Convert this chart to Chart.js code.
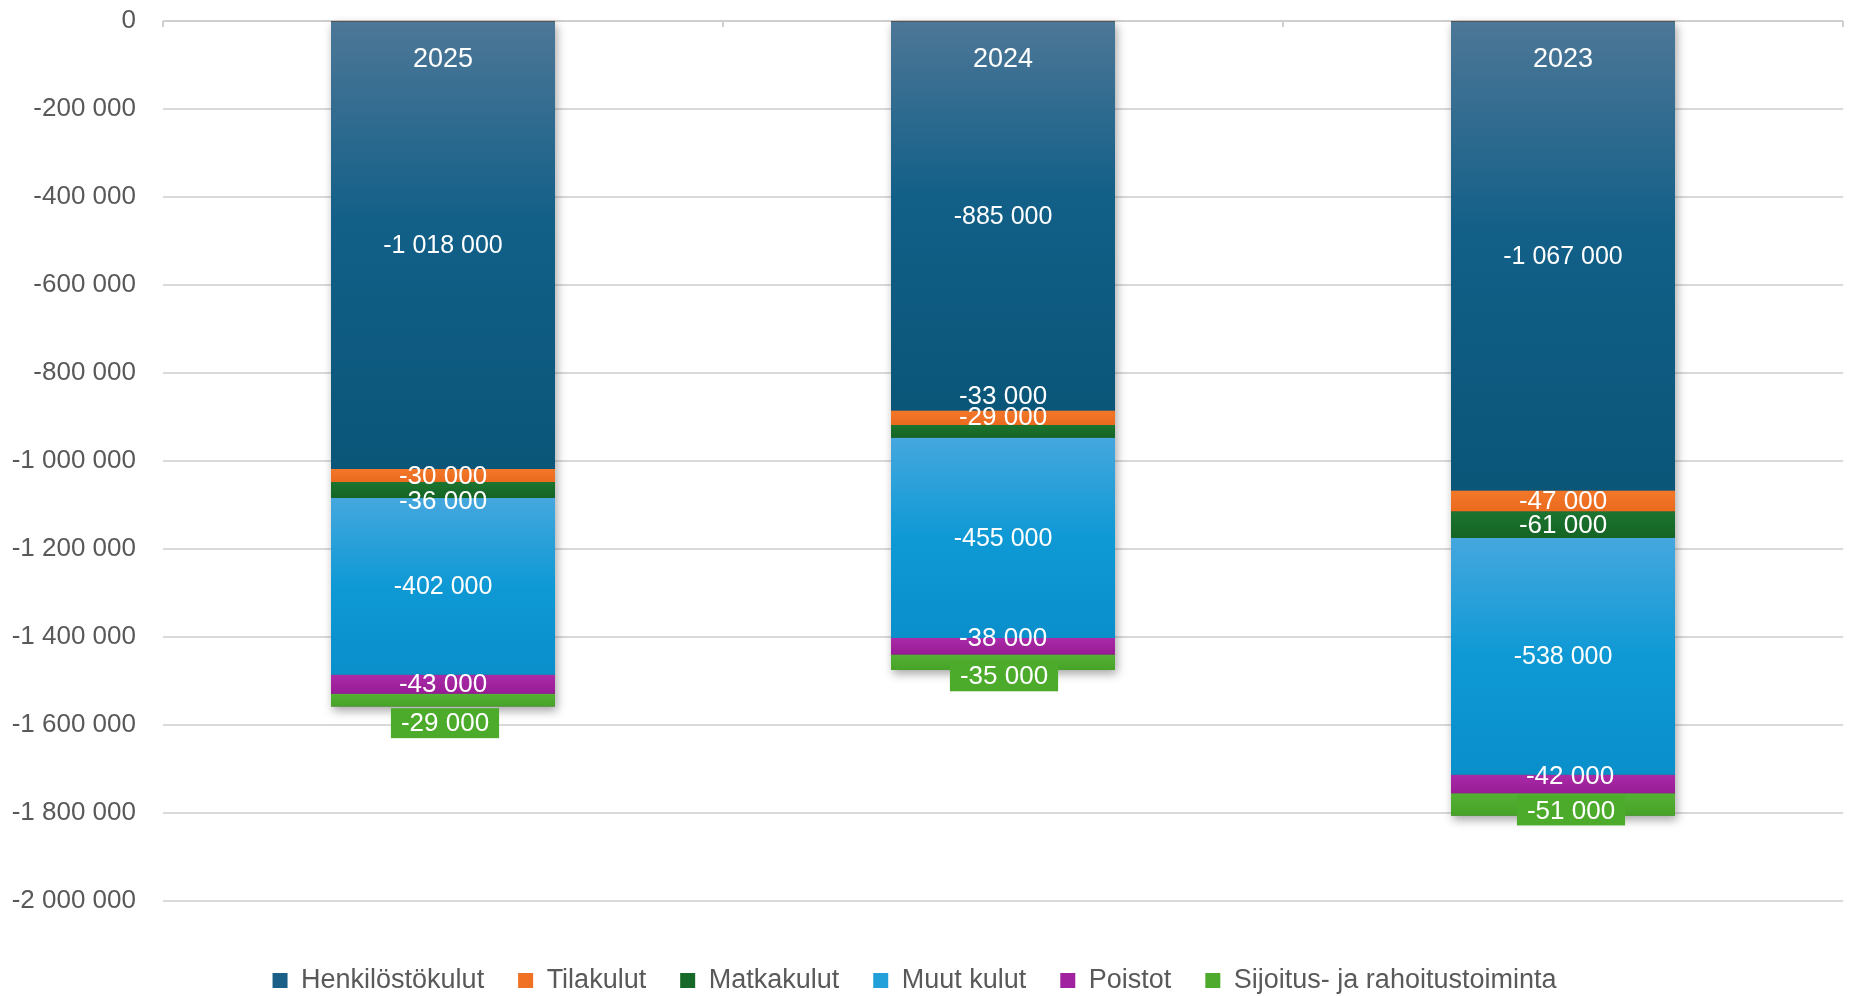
<!DOCTYPE html>
<html><head><meta charset="utf-8">
<script src="https://cdn.jsdelivr.net/npm/chart.js@4/dist/chart.umd.min.js"></script>
<style>html,body{margin:0;padding:0;background:#fff}#wrap{width:1850px;height:996px;position:relative}</style>
</head><body><div id="wrap"><canvas id="c"></canvas></div>
<script>
// ---- data ----
const categories = ['2025', '2024', '2023'];
const henkilostokulut = [-1018000, -885000, -1067000];
const tilakulut = [-30000, -33000, -47000];
const matkakulut = [-36000, -29000, -61000];
const muutKulut = [-402000, -455000, -538000];
const poistot = [-43000, -38000, -42000];
const sijoitus = [-29000, -35000, -51000];
const seriesNames = ['Henkilöstökulut', 'Tilakulut', 'Matkakulut', 'Muut kulut', 'Poistot', 'Sijoitus- ja rahoitustoiminta'];
const yMin = -2000000, yMax = 0, yStep = 200000;

// ---- style ----
const FONT = "'Liberation Sans', Arial, sans-serif";
const labelNudge = [
  [[0, 0], [0, 0], [0, 0]],
  [[0, 0], [0, -22], [0, 0]],
  [[0, 11], [0, -14], [0, 0]],
  [[0, 0], [0, 0], [0, 0]],
  [[0, 0], [0, -8], [7, -8]],
  [[2, 23], [1, 14], [8, 6]]
];
const fills = [
  [[0, '#4d7797'], [0.45, '#125f88'], [1, '#0a5679']],
  [[0, '#f3782a'], [1, '#ea6a1e']],
  [[0, '#1b7430'], [1, '#156424']],
  [[0, '#45a7de'], [0.5, '#0e99d5'], [1, '#0a8fcb']],
  [[0, '#ab2aa8'], [1, '#961c94']],
  [[0, '#55b135'], [1, '#46a328']]
];
const legendColors = ['#1a5f87', '#f07024', '#17692a', '#21a0da', '#a0229e', '#4daa2c'];

function fmt(v) {
  const s = Math.abs(Math.round(v)).toString().replace(/\B(?=(\d{3})+(?!\d))/g, ' ');
  return (v < 0 ? '-' : '') + s;
}

function segGrad(k) {
  return (ctx) => {
    if (ctx.type !== 'data') return legendColors[k];
    const ch = ctx.chart, y = ch.scales.y;
    if (!y || !ch.chartArea) return legendColors[k];
    const di = ctx.datasetIndex, i = ctx.dataIndex;
    let start = 0;
    for (let j = 0; j < di; j++) start += ch.data.datasets[j].data[i];
    const end = start + ch.data.datasets[di].data[i];
    const y0 = y.getPixelForValue(start), y1 = y.getPixelForValue(end);
    if (!isFinite(y0) || !isFinite(y1) || y0 === y1) return legendColors[k];
    const g = ch.ctx.createLinearGradient(0, y0, 0, y1);
    fills[k].forEach(s => g.addColorStop(s[0], s[1]));
    return g;
  };
}

const seriesData = [henkilostokulut, tilakulut, matkakulut, muutKulut, poistot, sijoitus];

const shadowPlugin = {
  id: 'shadow',
  beforeDraw(chart) {
    const lg = chart.legend;
    if (lg && !lg._shifted) {
      const d = lg.draw.bind(lg);
      lg.draw = function () {
        const c = this.ctx;
        c.save();
        c.translate(-13, 0);
        d();
        c.restore();
      };
      lg._shifted = true;
    }
  },
  beforeDatasetsDraw(chart) {
    const c = chart.ctx, x = chart.scales.x, y = chart.scales.y;
    const meta = chart.getDatasetMeta(0);
    c.save();
    // category boundary tick marks on the top axis line
    c.strokeStyle = '#cfcfcf';
    c.lineWidth = 2;
    const top = y.getPixelForValue(0);
    c.beginPath();
    c.moveTo(chart.chartArea.left, top);
    c.lineTo(chart.chartArea.right, top);
    for (let i = 0; i <= categories.length; i++) {
      const bx = Math.round(x.getPixelForValue(i - 0.5));
      c.moveTo(bx, top);
      c.lineTo(bx, top + 6);
    }
    c.stroke();
    c.shadowColor = 'rgba(0,0,0,0.35)';
    c.shadowBlur = 9;
    c.shadowOffsetX = 2;
    c.shadowOffsetY = 4;
    c.fillStyle = '#555';
    categories.forEach((cat, i) => {
      let total = 0;
      seriesData.forEach(d => total += d[i]);
      const w = meta.data[i].width;
      const cx = x.getPixelForValue(i);
      const bot = y.getPixelForValue(total);
      c.fillRect(cx - w / 2, top, w, bot - top);
    });
    c.restore();
  }
};

const labelPlugin = {
  id: 'labels',
  afterDatasetsDraw(chart) {
    const c = chart.ctx;
    c.save();
    c.textAlign = 'center';
    c.textBaseline = 'middle';
    // year labels inside bars
    c.font = '27px ' + FONT;
    c.fillStyle = '#ffffff';
    const x = chart.scales.x;
    categories.forEach((cat, i) => {
      c.fillText(cat, x.getPixelForValue(i), chart.chartArea.top + 39);
    });
    // value labels
    chart.data.datasets.forEach((ds, di) => {
      const meta = chart.getDatasetMeta(di);
      meta.data.forEach((el, i) => {
        const txt = fmt(ds.data[i]);
        const nx = labelNudge[di][i][0], ny = labelNudge[di][i][1];
        const px = el.x + nx, py = (el.y + el.base) / 2 + ny;
        c.font = (di === 0 || di === 3 ? '25px ' : '26px ') + FONT;
        if (di === 5) {
          const tw = c.measureText(txt).width;
          c.fillStyle = '#4dab2c';
          c.fillRect(px - tw / 2 - 10, py - 15, tw + 20, 30);
        }
        c.fillStyle = '#ffffff';
        c.fillText(txt, px, py + 1);
      });
    });
    c.restore();
  }
};

new Chart(document.getElementById('c'), {
  type: 'bar',
  data: {
    labels: categories,
    datasets: seriesData.map((d, k) => ({
      label: seriesNames[k],
      data: d,
      backgroundColor: segGrad(k),
      borderWidth: 0,
      categoryPercentage: 1,
      barPercentage: 0.4
    }))
  },
  options: {
    responsive: true,
    maintainAspectRatio: false,
    animation: false,
    layout: { padding: { left: 12, right: 7, top: 21, bottom: -8 } },
    plugins: {
      legend: {
        position: 'bottom',
        labels: {
          boxWidth: 15, boxHeight: 15, padding: 34,
          color: '#595959',
          font: { family: FONT, size: 27 },
          generateLabels(chart) {
            return seriesNames.map((n, k) => ({
              text: n, fillStyle: legendColors[k], strokeStyle: legendColors[k], lineWidth: 0,
              hidden: false, datasetIndex: k, fontColor: '#595959'
            }));
          }
        }
      },
      tooltip: { enabled: false }
    },
    scales: {
      x: {
        type: 'category',
        stacked: true,
        display: false
      },
      x2: {
        type: 'category',
        position: 'bottom',
        labels: categories,
        grid: { display: false },
        border: { display: false },
        ticks: { display: false },
        afterFit(s) { s.height = 32; }
      },
      y: {
        stacked: true,
        min: yMin, max: yMax,
        afterFit(s) { s.width = 151; },
        ticks: {
          stepSize: yStep,
          padding: 0,
          color: '#595959',
          font: { family: FONT, size: 26 },
          callback: v => fmt(v)
        },
        grid: { color: '#d9d9d9', lineWidth: 2, drawTicks: true, tickLength: 27, tickColor: 'rgba(0,0,0,0)' },
        border: { display: false }
      }
    }
  },
  plugins: [shadowPlugin, labelPlugin]
});
</script>
</body></html>
